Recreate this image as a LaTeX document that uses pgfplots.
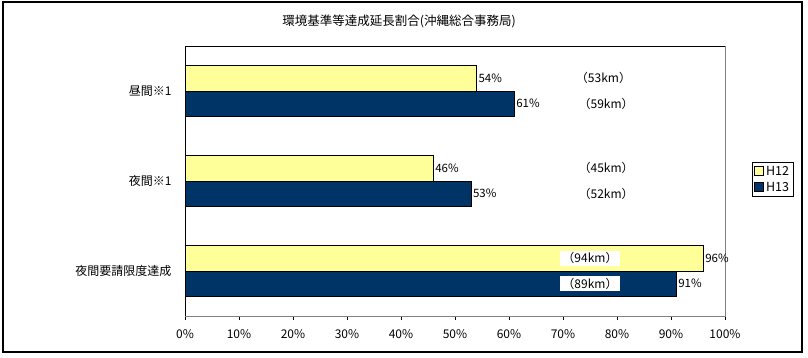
\documentclass[border=0pt]{standalone}
\usepackage{fontspec}
\setmainfont{Noto Sans CJK JP}
\usepackage{pgfplots}
\pgfplotsset{compat=1.18}
\definecolor{ylw}{HTML}{FFFF99}
\definecolor{nvy}{HTML}{003366}
\definecolor{frm}{HTML}{808080}
\begin{document}
\begin{tikzpicture}[x=1pt,y=1pt]
\useasboundingbox (0,0) rectangle (808,357);
\fill[white] (0,0) rectangle (808,357);
\draw[line width=1.3pt] (3,5) rectangle (802,355);
\node[font=\fontsize{12.5}{15}\selectfont] at (399,336) {環境基準等達成延長割合(沖縄総合事務局)};
\begin{axis}[
  at={(185pt,41pt)}, anchor=south west,
  scale only axis, width=540pt, height=270pt,
  xbar, y dir=reverse,
  xmin=0, xmax=100, ymin=-0.5, ymax=2.5,
  xtick={0,10,...,100},
  xticklabel={\pgfmathprintnumber{\tick}\%},
  ytick={0,1,2},
  yticklabels={昼間※1,夜間※1,夜間要請限度達成},
  minor ytick={-0.5,0.5,1.5,2.5},
  ytick style={draw=none},
  minor y tick style={black, line width=0.8pt},
  x tick style={black, line width=0.8pt},
  tick align=outside,
  major tick length=4pt, minor tick length=4pt,
  axis x line*=bottom, axis y line*=left,
  axis line style={-, black, line width=0.9pt},
  tick label style={font=\fontsize{12}{14}\selectfont},
  /pgf/number format/assume math mode=true,
  xticklabel style={yshift=-6pt},
  yticklabel style={xshift=-6pt},
  bar width=25.5pt,
  clip=false,
  nodes near coords={\pgfmathprintnumber{\pgfplotspointmeta}\%},
  nodes near coords style={font=\fontsize{11.5}{14}\selectfont, inner sep=1.5pt},
  legend style={at={(1,0.506)}, anchor=west, xshift=27pt, draw=black, line width=0.6pt,
    font=\fontsize{12.5}{15}\selectfont, inner sep=2pt, row sep=1pt,
    legend cell align=left},
  legend image code/.code={\draw[#1, line width=0.8pt] (0pt,-4pt) rectangle (9pt,5pt);},
]
\addplot[fill=ylw, draw=black, line width=0.8pt, bar shift=12.75pt] coordinates {(54,0) (46,1) (96,2)};
\addlegendentry{H12}
\addplot[fill=nvy, draw=black, line width=0.8pt, bar shift=-12.75pt] coordinates {(61,0) (53,1) (91,2)};
\addlegendentry{H13}
\draw[frm, line width=1pt] (rel axis cs:0,0) -- (rel axis cs:1,0) -- (rel axis cs:1,1);
\draw[black, line width=0.9pt] (rel axis cs:0,0) -- (rel axis cs:0,1) -- (rel axis cs:1,1);
\node[font=\fontsize{12}{14}\selectfont] at (axis cs:77.5,-0.14) {（53km）};
\node[font=\fontsize{12}{14}\selectfont] at (axis cs:78,0.14) {（59km）};
\node[font=\fontsize{12}{14}\selectfont] at (axis cs:78,0.86) {（45km）};
\node[font=\fontsize{12}{14}\selectfont] at (axis cs:78,1.14) {（52km）};
\node[font=\fontsize{12}{14}\selectfont, fill=white, inner sep=2pt] at (axis cs:75,1.86) {（94km）};
\node[font=\fontsize{12}{14}\selectfont, fill=white, inner sep=2pt] at (axis cs:75,2.14) {（89km）};
\end{axis}
\end{tikzpicture}
\end{document}
